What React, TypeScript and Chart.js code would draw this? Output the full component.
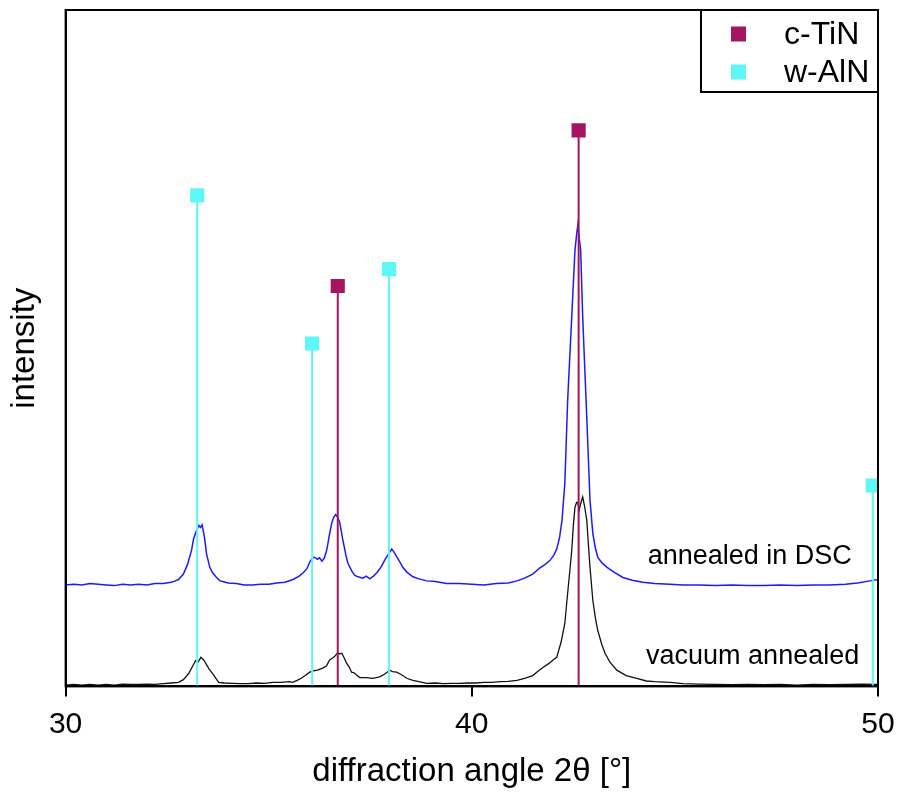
import React, { useEffect, useRef } from 'react';
import { Chart, registerables } from 'chart.js';

Chart.register(...registerables);

// ---- data ----
const dscAngle = [
  30.0, 30.2, 30.4, 30.6, 30.8, 31.0, 31.2, 31.4, 31.6, 31.8, 32.0, 32.2, 32.4, 32.6, 32.7, 32.78, 32.9, 33.0, 33.1, 33.15,
  33.22, 33.28, 33.32, 33.36, 33.42, 33.47, 33.55, 33.62, 33.7, 33.8, 33.87, 34.0, 34.2, 34.4, 34.6, 34.8, 35.0, 35.2, 35.4, 35.6,
  35.75, 35.85, 35.94, 36.02, 36.08, 36.13, 36.2, 36.25, 36.31, 36.37, 36.43, 36.5, 36.55, 36.6, 36.65, 36.7, 36.75, 36.82, 36.9, 36.95,
  37.05, 37.12, 37.2, 37.32, 37.4, 37.49, 37.58, 37.66, 37.76, 37.86, 37.95, 38.03, 38.08, 38.15, 38.22, 38.3, 38.4, 38.55, 38.7, 38.89,
  39.1, 39.38, 39.7, 40.0, 40.3, 40.6, 40.9, 41.11, 41.3, 41.5, 41.67, 41.8, 41.92, 42.02, 42.09, 42.16, 42.22, 42.29, 42.36, 42.46,
  42.54, 42.58, 42.61, 42.65, 42.68, 42.73, 42.83, 42.91, 42.98, 43.04, 43.1, 43.2, 43.33, 43.5, 43.72, 43.95, 44.21, 44.5, 44.88, 45.2,
  45.6, 46.0, 46.4, 46.8, 47.2, 47.6, 48.0, 48.4, 48.8, 49.2, 49.5, 49.8, 50.0,
];
const dscIntensity = [
  15.0, 15.1, 15.0, 15.2, 15.1, 15.0, 14.9, 15.1, 15.0, 15.1, 15.0, 15.2, 15.2, 15.4, 15.6, 15.8, 16.6, 18.0, 20.1, 21.8,
  23.0, 23.8, 23.5, 23.9, 22.0, 19.6, 17.6, 16.8, 16.2, 15.6, 15.5, 15.3, 15.2, 15.0, 15.0, 15.1, 15.1, 15.3, 15.4, 15.8,
  16.3, 16.8, 17.4, 18.5, 19.0, 19.1, 18.8, 19.0, 18.5, 19.0, 20.2, 22.6, 24.1, 25.0, 25.4, 25.0, 24.2, 21.8, 19.4, 18.2,
  17.0, 16.4, 16.2, 16.0, 16.3, 15.9, 16.3, 16.8, 17.6, 18.7, 19.6, 20.3, 19.9, 19.2, 18.5, 17.6, 16.9, 16.2, 15.9, 15.6,
  15.5, 15.2, 15.2, 15.1, 15.0, 15.2, 15.3, 15.6, 16.0, 16.6, 17.5, 18.0, 18.6, 19.4, 20.3, 22.0, 24.5, 30.0, 42.3, 54.6,
  64.5, 66.8, 68.2, 66.0, 64.5, 54.6, 39.8, 27.5, 22.6, 20.5, 19.1, 18.3, 17.6, 16.9, 16.1, 15.7, 15.4, 15.2, 15.1, 15.0,
  15.0, 14.9, 15.0, 14.9, 14.9, 15.0, 14.9, 15.0, 15.0, 15.1, 15.3, 15.6, 15.8,
];

const vacAngle = [
  30.0, 30.2, 30.4, 30.6, 30.8, 31.0, 31.2, 31.4, 31.6, 31.8, 32.0, 32.2, 32.4, 32.6, 32.78, 32.9, 33.03, 33.12, 33.2, 33.26,
  33.33, 33.4, 33.45, 33.53, 33.62, 33.7, 33.77, 33.9, 34.11, 34.3, 34.5, 34.7, 34.9, 35.1, 35.3, 35.5, 35.59, 35.7, 35.8, 35.9,
  36.01, 36.1, 36.2, 36.33, 36.42, 36.5, 36.55, 36.62, 36.7, 36.75, 36.8, 36.86, 36.92, 36.98, 37.04, 37.1, 37.24, 37.4, 37.56, 37.65,
  37.73, 37.85, 37.98, 38.05, 38.15, 38.25, 38.4, 38.55, 38.7, 38.89, 39.1, 39.3, 39.5, 39.7, 39.9, 40.1, 40.3, 40.5, 40.7, 40.9,
  41.11, 41.3, 41.5, 41.62, 41.75, 41.9, 42.0, 42.09, 42.2, 42.29, 42.36, 42.42, 42.46, 42.5, 42.54, 42.58, 42.61, 42.64, 42.68, 42.73,
  42.78, 42.83, 42.87, 42.91, 42.98, 43.04, 43.1, 43.2, 43.28, 43.4, 43.57, 43.8, 44.06, 44.3, 44.5, 44.88, 45.2, 45.6, 46.0, 46.4,
  46.8, 47.2, 47.6, 48.0, 48.4, 48.8, 49.2, 49.6, 50.0,
];
const vacIntensity = [
  0.2, 0.3, 0.2, 0.3, 0.2, 0.3, 0.2, 0.35, 0.3, 0.3, 0.35, 0.3, 0.4, 0.5, 0.6, 1.0, 1.9, 2.9, 3.8, 3.6,
  4.3, 3.9, 3.4, 2.6, 1.9, 1.2, 0.6, 0.5, 0.45, 0.4, 0.4, 0.5, 0.45, 0.6, 0.6, 0.7, 0.6, 0.9, 1.2, 1.6,
  2.1, 2.3, 2.4, 2.7, 3.0, 3.9, 4.1, 4.4, 5.0, 4.8, 4.9, 4.2, 3.4, 2.9, 2.1, 2.0, 1.3, 1.3, 1.2, 1.3,
  1.4, 1.8, 2.4, 2.2, 2.1, 1.8, 1.2, 0.9, 0.7, 0.45, 0.5, 0.4, 0.45, 0.45, 0.5, 0.5, 0.6, 0.6, 0.7, 0.75,
  0.9, 1.2, 1.6, 2.2, 2.8, 3.4, 3.9, 4.3, 6.6, 9.3, 13.8, 17.5, 20.1, 23.8, 26.5, 27.2, 27.2, 26.0, 27.0, 28.0,
  26.5, 24.6, 21.0, 17.6, 12.7, 10.2, 8.3, 6.2, 4.9, 3.6, 2.4, 1.6, 1.2, 0.8, 0.7, 0.6, 0.4, 0.35, 0.3, 0.25,
  0.3, 0.25, 0.3, 0.2, 0.3, 0.25, 0.3, 0.35, 0.3,
];

const tinAngles = [36.7, 42.63];
const tinHeights = [59.2, 82.2];
const alnAngles = [33.24, 36.07, 37.96, 49.87];
const alnHeights = [72.6, 50.7, 61.7, 29.7];

const phaseNames = ['c-TiN', 'w-AlN'];
const phaseColors = ['#a5155f', '#5ff6f8'];
const curveNames = ['annealed in DSC', 'vacuum annealed'];
const curveColors = ['#1a1aff', '#111111'];
const curveLabelAngle = [44.33, 44.29];
const curveLabelLevel = [19.2, 4.4];
const xTicks = [30, 40, 50];

const FONT = '"Liberation Sans", Arial, sans-serif';

function stems(angles: number[], heights: number[]) {
  const pts: { x: number; y: number | null }[] = [];
  angles.forEach((a, i) => {
    pts.push({ x: a, y: 0 });
    pts.push({ x: a, y: heights[i] });
    pts.push({ x: a, y: null });
  });
  return pts;
}

function series(xs: number[], ys: number[]) {
  return xs.map((x, i) => ({ x, y: ys[i] }));
}

const overlayPlugin = {
  id: 'overlay',
  afterDraw(chart: any) {
    const { ctx, chartArea, scales } = chart;
    const xs = scales.x;
    const ys = scales.y;
    ctx.save();
    // frame
    ctx.strokeStyle = '#000';
    ctx.lineWidth = 2;
    ctx.strokeRect(chartArea.left, chartArea.top, chartArea.right - chartArea.left, chartArea.bottom - chartArea.top);

    // curve labels
    ctx.fillStyle = '#000';
    ctx.font = `27px ${FONT}`;
    ctx.textAlign = 'left';
    ctx.textBaseline = 'middle';
    curveNames.forEach((name, i) => {
      ctx.fillText(name, xs.getPixelForValue(curveLabelAngle[i]), ys.getPixelForValue(curveLabelLevel[i]));
    });

    // legend box
    const bw = 177;
    const bh = 82;
    const bx = chartArea.right - bw;
    const by = chartArea.top;
    ctx.fillStyle = '#fff';
    ctx.fillRect(bx, by, bw, bh);
    ctx.strokeStyle = '#000';
    ctx.lineWidth = 2;
    ctx.strokeRect(bx, by, bw, bh);
    const rowY = [by + 24, by + 62];
    ctx.font = `32px ${FONT}`;
    ctx.textAlign = 'left';
    ctx.textBaseline = 'middle';
    phaseNames.forEach((name, i) => {
      ctx.fillStyle = phaseColors[i];
      ctx.fillRect(bx + 30, rowY[i] - 7.5, 15, 15);
      ctx.fillStyle = '#000';
      ctx.fillText(name, bx + 83, rowY[i] + 1);
    });
    ctx.restore();
  },
};

export default function App() {
  const ref = useRef<HTMLCanvasElement | null>(null);

  useEffect(() => {
    if (!ref.current) return;
    Chart.defaults.font.family = FONT;
    Chart.defaults.color = '#000';
    const chart = new Chart(ref.current, {
      type: 'line',
      data: {
        datasets: [
          {
            label: phaseNames[0],
            data: stems(tinAngles, tinHeights) as any,
            borderColor: phaseColors[0],
            backgroundColor: phaseColors[0],
            borderWidth: 2,
            spanGaps: false,
            pointStyle: 'rect',
            pointRadius: (c: any) => (c.raw && c.raw.y > 0 ? 10 : 0),
            pointBorderWidth: 0,
            pointHoverRadius: 0,
          },
          {
            label: phaseNames[1],
            data: stems(alnAngles, alnHeights) as any,
            borderColor: phaseColors[1],
            backgroundColor: phaseColors[1],
            borderWidth: 2,
            spanGaps: false,
            pointStyle: 'rect',
            pointRadius: (c: any) => (c.raw && c.raw.y > 0 ? 10 : 0),
            pointBorderWidth: 0,
            pointHoverRadius: 0,
          },
          {
            label: curveNames[0],
            data: series(dscAngle, dscIntensity),
            borderColor: curveColors[0],
            borderWidth: 1.5,
            pointRadius: 0,
            tension: 0,
          },
          {
            label: curveNames[1],
            data: series(vacAngle, vacIntensity),
            borderColor: curveColors[1],
            borderWidth: 1.3,
            pointRadius: 0,
            tension: 0,
          },
        ],
      },
      options: {
        responsive: false,
        animation: false,
        devicePixelRatio: 1,
        layout: { padding: { left: 0, right: 20, top: 10, bottom: 0 } },
        plugins: {
          legend: { display: false },
          tooltip: { enabled: false },
        },
        scales: {
          x: {
            type: 'linear',
            min: 30,
            max: 50,
            afterBuildTicks: (axis: any) => {
              axis.ticks = xTicks.map((v) => ({ value: v }));
            },
            afterFit: (axis: any) => {
              axis.paddingLeft = 0;
              axis.paddingRight = 0;
            },
            ticks: {
              font: { size: 30 },
              color: '#000',
              padding: 10,
              maxRotation: 0,
              callback: (v: any) => String(v),
            },
            grid: {
              drawOnChartArea: false,
              drawTicks: true,
              tickLength: 10,
              color: '#000',
              lineWidth: 2,
            },
            border: { display: true, color: '#000', width: 2 },
            title: {
              display: true,
              text: 'diffraction angle 2θ [°]',
              font: { size: 33 },
              color: '#000',
              padding: { top: 0, bottom: 0 },
            },
          },
          y: {
            type: 'linear',
            min: 0,
            max: 100,
            ticks: { display: false },
            grid: { display: false, drawTicks: false },
            border: { display: true, color: '#000', width: 2 },
            title: {
              display: true,
              text: 'intensity',
              font: { size: 33 },
              color: '#000',
              padding: { top: 5, bottom: 21 },
            },
          },
        },
      },
      plugins: [overlayPlugin],
    });
    return () => chart.destroy();
  }, []);

  return (
    <div style={{ position: 'absolute', left: 0, top: 0, width: 898, height: 792, background: '#fff' }}>
      <canvas ref={ref} width={898} height={792} style={{ display: 'block', width: 898, height: 792 }} />
    </div>
  );
}
